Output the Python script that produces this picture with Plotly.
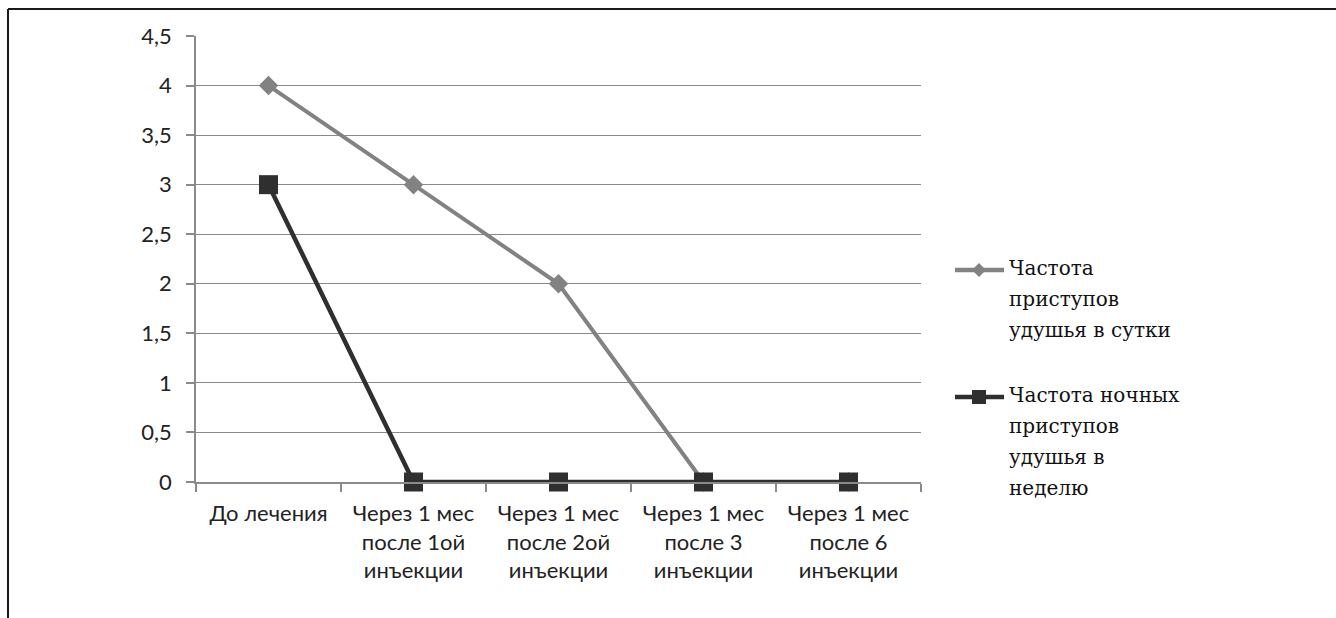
import plotly.graph_objects as go

# Categories along the horizontal axis
categories = [
    "До лечения",
    "Через 1 мес<br>после 1ой<br>инъекции",
    "Через 1 мес<br>после 2ой<br>инъекции",
    "Через 1 мес<br>после 3<br>инъекции",
    "Через 1 мес<br>после 6<br>инъекции",
]

# Series values
daily_attacks = [4, 3, 2, 0, 0]
nightly_attacks = [3, 0, 0, 0, 0]

series_names = [
    "Частота<br>приступов<br>удушья в сутки",
    "Частота ночных<br>приступов<br>удушья в<br>неделю",
]

y_tickvals = [0, 0.5, 1, 1.5, 2, 2.5, 3, 3.5, 4, 4.5]
y_ticktext = ["0", "0,5", "1", "1,5", "2", "2,5", "3", "3,5", "4", "4,5"]

W, H = 1336, 618
L, R, T, B = 196, 921, 36, 482  # plot area in pixels

GREY = "#828282"
DARK = "#2f2f2f"
GRID = "#8a8a8a"
AXIS_FONT = dict(family="Lato, sans-serif", size=22, color="#222222")
LEGEND_FONT = dict(family="DejaVu Serif", size=20, color="#111111")
LEGEND_LINE_STEP = 31  # vertical distance between wrapped legend lines, px


def px_x(px):
    return (px - L) / (R - L)


def px_y(py):
    return (B - py) / (B - T)


fig = go.Figure()

fig.add_trace(go.Scatter(
    x=categories, y=daily_attacks, mode="lines+markers", name=series_names[0],
    line=dict(color=GREY, width=4),
    marker=dict(symbol="diamond", size=15, color=GREY),
    showlegend=False, cliponaxis=False,
))
fig.add_trace(go.Scatter(
    x=categories, y=nightly_attacks, mode="lines+markers", name=series_names[1],
    line=dict(color=DARK, width=4.5),
    marker=dict(symbol="square", size=19, color=DARK),
    showlegend=False, cliponaxis=False,
))

# Legend drawn by hand: sample line, marker glyph and wrapped label
shapes = []
annotations = []
legend_rows = [(270, GREY, "diamond"), (397, DARK, "square")]
for (cy, color, glyph), label in zip(legend_rows, series_names):
    shapes.append(dict(type="line", xref="paper", yref="paper",
                       x0=px_x(955), x1=px_x(1004), y0=px_y(cy), y1=px_y(cy),
                       line=dict(color=color, width=4.5)))
    cx = 979
    if glyph == "diamond":
        d = 7
        path = (f"M{px_x(cx - d)},{px_y(cy)} L{px_x(cx)},{px_y(cy - d)} "
                f"L{px_x(cx + d)},{px_y(cy)} L{px_x(cx)},{px_y(cy + d)} Z")
        shapes.append(dict(type="path", xref="paper", yref="paper", path=path,
                           fillcolor=color, line=dict(color=color, width=0)))
    else:
        s = 7
        shapes.append(dict(type="rect", xref="paper", yref="paper",
                           x0=px_x(cx - s), x1=px_x(cx + s),
                           y0=px_y(cy - s), y1=px_y(cy + s),
                           fillcolor=color, line=dict(color=color, width=0)))
    for i, line_text in enumerate(label.split("<br>")):
        annotations.append(dict(xref="paper", yref="paper", x=px_x(1007),
                                y=px_y(cy - 2 + i * LEGEND_LINE_STEP),
                                xanchor="left", yanchor="middle", align="left",
                                showarrow=False, text=line_text, font=LEGEND_FONT))

# Outer frame (top and left edges visible)
shapes.append(dict(type="line", xref="paper", yref="paper",
                   x0=px_x(8), x1=px_x(1345), y0=px_y(9), y1=px_y(9),
                   line=dict(color="#1a1a1a", width=2)))
shapes.append(dict(type="line", xref="paper", yref="paper",
                   x0=px_x(8), x1=px_x(8), y0=px_y(9), y1=px_y(630),
                   line=dict(color="#1a1a1a", width=2)))

fig.update_layout(
    width=W, height=H,
    margin=dict(l=L, r=W - R, t=T, b=H - B, pad=0),
    paper_bgcolor="white", plot_bgcolor="white",
    shapes=shapes, annotations=annotations,
    showlegend=False,
)

fig.update_xaxes(
    type="category", tickson="boundaries",
    showline=True, linecolor=GRID, linewidth=1.5,
    ticks="outside", ticklen=8, tickcolor=GRID, tickwidth=1.5,
    showgrid=False, tickfont=AXIS_FONT, ticklabelstandoff=11,
    tickangle=0, range=[-0.5, 4.5],
)
fig.update_yaxes(
    range=[0, 4.5], tickvals=y_tickvals, ticktext=y_ticktext,
    showline=True, linecolor=GRID, linewidth=1.5,
    ticks="outside", ticklen=8, tickcolor=GRID, tickwidth=1.5,
    showgrid=True, gridcolor=GRID, gridwidth=1.2,
    zeroline=False, tickfont=AXIS_FONT, ticklabelstandoff=10,
)

fig.write_html("out.html")
